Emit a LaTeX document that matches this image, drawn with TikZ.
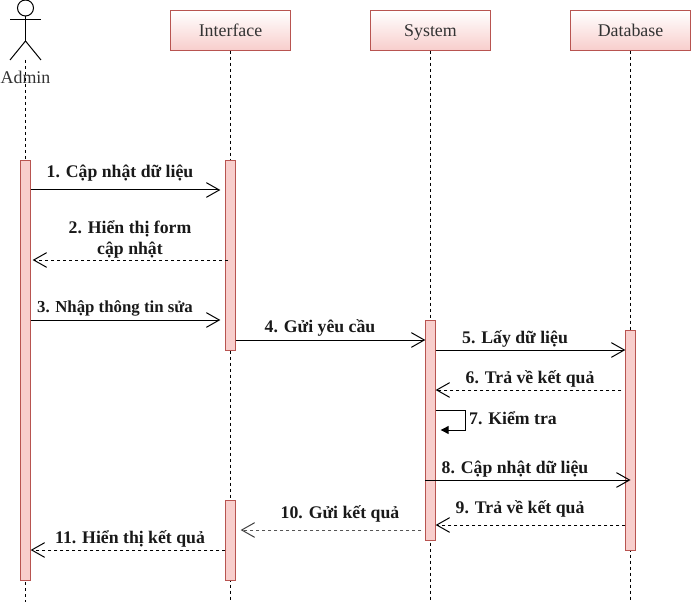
\documentclass[tikz,border=0pt]{standalone}
\usepackage{fontspec}
\setmainfont{Liberation Serif}
\usetikzlibrary{arrows.meta,positioning,calc}
\definecolor{redfill}{HTML}{f8cecc}
\definecolor{redline}{HTML}{b85450}
\definecolor{grayink}{HTML}{555555}

\begin{document}
\begin{tikzpicture}[
  x=0.75pt, y=-0.75pt,
  font=\fontsize{13.4}{15}\selectfont,
  head/.style={draw=redline, line width=0.75pt, top color=white, bottom color=redfill, minimum width=90pt, minimum height=29.5pt, inner sep=0pt, text height=10.5pt, text depth=2pt, text=black!80},
  bar/.style={draw=redline, line width=0.75pt, fill=redfill, minimum width=7.75pt, inner sep=0pt, outer sep=0pt},
  life/.style={dash pattern=on 2.25pt off 2.25pt, line width=0.75pt},
  lab/.style={font=\fontsize{13.3}{15.75}\selectfont\bfseries, align=center, inner sep=0pt, anchor=base, text=black!90},
  msg/.style={line width=0.75pt, -{Straight Barb[length=9.75pt,width=11pt,line width=0.75pt]}},
  ret/.style={msg, dash pattern=on 2.25pt off 2.25pt},
  ]
  \useasboundingbox (0,0) rectangle (691,602);
  \coordinate (bottom) at (0,602);
  % actor
  \node[circle, draw, line width=0.75pt, minimum size=12pt, inner sep=0pt] (admhead) at (25.5,8) {};
  \coordinate (admhip) at (25.5,41);
  \coordinate (admarmL) at (10,20);
  \coordinate (admarmR) at (41,20);
  \coordinate (admlegL) at (10,60);
  \coordinate (admlegR) at (41,60);
  \draw[line width=0.75pt] (admhead.south) -- (admhip);
  \draw[line width=0.75pt] (admarmL) -- (admarmR);
  \draw[line width=0.75pt] (admlegL) -- (admhip) -- (admlegR);
  \node[inner sep=0pt, anchor=base, text=black!80] (admin) at (25.5,84) {Admin};
  % heads
  \node[head] (iface) at (230.5,30.5) {Interface};
  \node[head] (system) at (430.5,30.5) {System};
  \node[head] (dbase) at (630.5,30.5) {Database};
  % lifelines
  \draw[life] (admhip |- admlegL) -- (admhip |- bottom);
  \draw[life] (iface.south) -- (iface.south |- bottom);
  \draw[life] (system.south) -- (system.south |- bottom);
  \draw[life] (dbase.south) -- (dbase.south |- bottom);
  % bars
  \node[bar, minimum height=315pt] (barAdm) at (25.5,370.5) {};
  \node[bar, minimum height=142.5pt] (barIf) at (230.5,255.5) {};
  \node[bar, minimum height=60pt] (barIfb) at (230.5,540.5) {};
  \node[bar, minimum height=165pt] (barSys) at (430.5,430.5) {};
  \node[bar, minimum height=165pt] (barDb) at (630.5,440.5) {};
  % message heights
  \coordinate (y1) at (0,190);
  \coordinate (y2) at (0,260);
  \coordinate (y3) at (0,320);
  \coordinate (y4) at (0,340);
  \coordinate (y5) at (0,350);
  \coordinate (y6) at (0,390);
  \coordinate (y7) at (0,410);
  \coordinate (y7b) at (0,430);
  \coordinate (y8) at (0,480);
  \coordinate (y9) at (0,525);
  \coordinate (y10) at (0,530);
  \coordinate (y11) at (0,550);
  \coordinate (selfx) at (465.5,0);
  % messages
  \draw[msg, shorten >=3.75pt] (barAdm.east |- y1) -- (barIf.west |- y1);
  \draw[ret, shorten <=-2pt, shorten >=1.5pt] (barIf.west |- y2) -- (barAdm.east |- y2);
  \draw[msg, shorten >=3.75pt] (barAdm.east |- y3) -- (barIf.west |- y3);
  \draw[msg] (barIf.east |- y4) -- (barSys.west |- y4);
  \draw[msg] (barSys.east |- y5) -- (barDb.west |- y5);
  \draw[ret, shorten <=3pt] (barDb.west |- y6) -- (barSys.east |- y6);
  \draw[line width=0.75pt, -{Triangle[length=6pt,width=6pt]}] (barSys.east |- y7) -- (selfx |- y7) -- (selfx |- y7b) -- ([xshift=3.75pt]barSys.east |- y7b);
  \draw[msg] (barSys.west |- y8) -- (barDb.center |- y8);
  \draw[ret] (barDb.west |- y9) -- (barSys.east |- y9);
  \draw[line width=0.75pt, dash pattern=on 2.25pt off 2.25pt, draw=grayink, -{Straight Barb[length=9.75pt,width=11pt,line width=0.75pt,color=black!75]}, shorten <=3pt, shorten >=3.75pt] (barSys.west |- y10) -- (barIfb.east |- y10);
  \draw[ret] (barIfb.west |- y11) -- (barAdm.east |- y11);
  % labels
  \node[lab] (lab1) at (120,178) {1. Cập nhật dữ liệu};
  \node[lab, anchor=center] (lab2) at (130,239) {2. Hiển thị form\\cập nhật};
  \node[lab, font=\fontsize{12.6}{15}\selectfont\bfseries] (lab3) at (115,312) {3. Nhập thông tin sửa};
  \node[lab] (lab4) at (320,332) {4. Gửi yêu cầu};
  \node[lab] (lab5) at (515,343) {5. Lấy dữ liệu};
  \node[lab] (lab6) at (530,383) {6. Trả về kết quả};
  \node[lab] (lab7) at (513,424) {7. Kiểm tra};
  \node[lab] (lab8) at (515,473) {8. Cập nhật dữ liệu};
  \node[lab] (lab9) at (520,513) {9. Trả về kết quả};
  \node[lab] (lab10) at (340,518) {10. Gửi kết quả};
  \node[lab] (lab11) at (130,543) {11. Hiển thị kết quả};
\end{tikzpicture}
\end{document}
